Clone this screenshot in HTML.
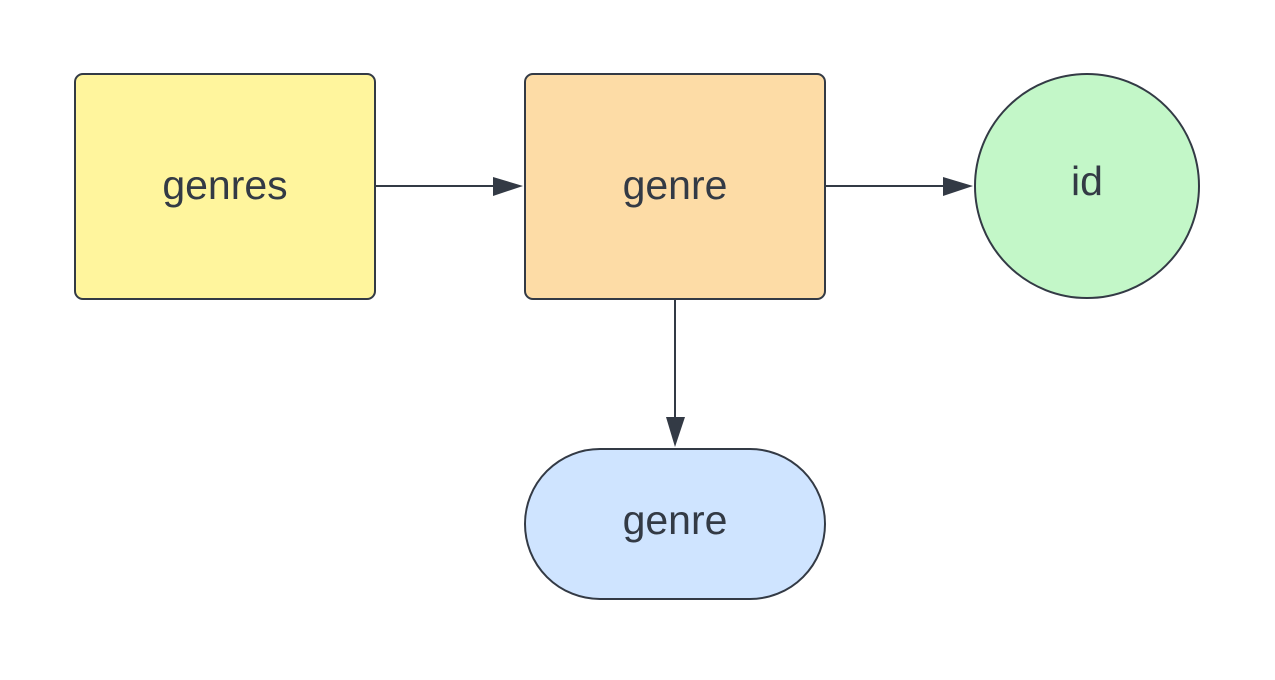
<!DOCTYPE html>
<html><head><style>body{margin:0;background:#fff}</style></head><body>
<svg width="1275" height="675" xmlns="http://www.w3.org/2000/svg" font-family="Liberation Sans, sans-serif">
<rect x="75" y="74" width="300" height="225" rx="8" fill="#fff59d" stroke="#333a45" stroke-width="2"/>
<rect x="525" y="74" width="300" height="225" rx="8" fill="#fddca6" stroke="#333a45" stroke-width="2"/>
<circle cx="1087" cy="186" r="112" fill="#c3f7c8" stroke="#333a45" stroke-width="2"/>
<rect x="525" y="449" width="300" height="150" rx="75" fill="#cfe4ff" stroke="#333a45" stroke-width="2"/>
<g stroke="#333a45" stroke-width="2">
<line x1="376" y1="186" x2="495" y2="186"/>
<line x1="826" y1="186" x2="945" y2="186"/>
<line x1="675" y1="300" x2="675" y2="418"/>
</g>
<g fill="#333a45">
<polygon points="493,177 523,186 493,196"/>
<polygon points="943,177 973,186 943,196"/>
<polygon points="666,417 675,447 685,417"/>
</g>
<g fill="#333a45" font-size="41" text-anchor="middle">
<text x="225" y="199">genres</text>
<text x="675" y="199">genre</text>
<text x="1087" y="195">id</text>
<text x="675" y="534">genre</text>
</g>
</svg>
</body></html>
